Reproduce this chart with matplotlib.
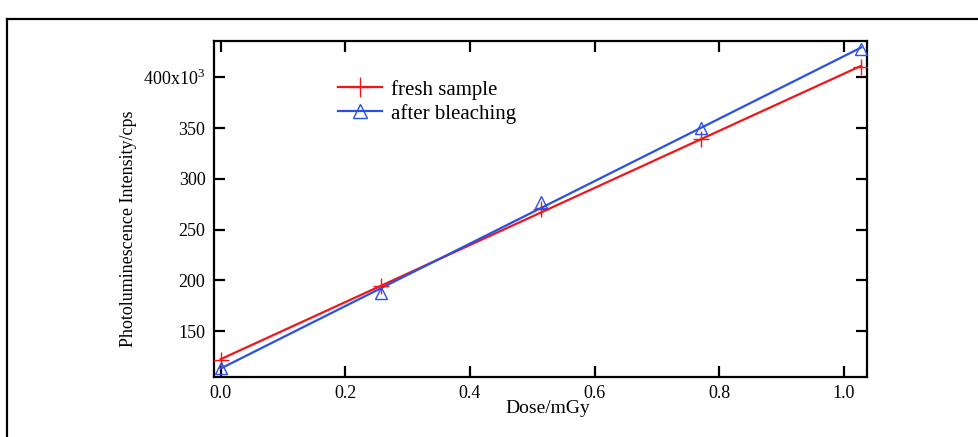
import numpy as np
import matplotlib
matplotlib.use("Agg")
import matplotlib.pyplot as plt
from matplotlib.lines import Line2D

plt.rcParams['font.family'] = ['Liberation Serif', 'DejaVu Serif']
plt.rcParams['mathtext.fontset'] = 'custom'
plt.rcParams['mathtext.rm'] = 'Liberation Serif'

# dose (mGy) and photoluminescence intensity (x10^3 cps)
dose = [0.0, 0.257, 0.514, 0.771, 1.028]
fresh = [121, 194, 270, 339, 410]
bleached = [114, 187, 277, 350, 428]

yticks = [150, 200, 250, 300, 350, 400]
ytick_labels = ['150', '200', '250', '300', '350', '400x10$^{3}$']
xticks = [0.0, 0.2, 0.4, 0.6, 0.8, 1.0]

red = '#f2161c'
blue = '#2a50e4'

fig = plt.figure(figsize=(9.79, 4.37), dpi=100)
ax = fig.add_axes([0.2183, 0.138, 0.6678, 0.7682])

# outer frame (top and left edges only are visible)
fig.add_artist(Line2D([7/979, 1.0], [1 - 19/437, 1 - 19/437], color='black', lw=1.6))
fig.add_artist(Line2D([7/979, 7/979], [0.0, 1 - 19/437], color='black', lw=1.6))

x = np.array(dose)
xfit = np.array([x.min(), x.max()])
for vals, c, m in [(fresh, red, '+'), (bleached, blue, '^')]:
    p = np.polyfit(x, vals, 1)
    ax.plot(xfit, np.polyval(p, xfit), color=c, lw=1.6, zorder=2)
    ax.plot(x, vals, ls='none', marker=m, ms=11 if m == '+' else 9,
            mfc='none', mec=c, mew=1.0, zorder=3)

handles = [Line2D([], [], color=red, lw=1.6, marker='+', ms=14, mew=1.0),
           Line2D([], [], color=blue, lw=1.6, marker='^', ms=10, mfc='none', mew=1.0)]
ax.legend(handles, ['fresh sample', 'after bleaching'], loc='upper left',
          bbox_to_anchor=(0.19, 0.885), frameon=False, fontsize=15,
          borderaxespad=0, borderpad=0, handlelength=2.1, handletextpad=0.45,
          labelspacing=0.2)

ax.set_xlim(-0.011, 1.038)
ax.set_ylim(105, 435.8)
ax.set_xticks(xticks)
ax.set_xticklabels(['%.1f' % t for t in xticks])
ax.set_yticks(yticks)
ax.set_yticklabels(ytick_labels)

ax.tick_params(direction='in', length=8, width=1.6, labelsize=13, pad=6,
               top=True, right=True)
for s in ax.spines.values():
    s.set_linewidth(1.6)

ax.set_xlabel('Dose/mGy', fontsize=14)
ax.xaxis.set_label_coords(0.511, -0.068)
ax.xaxis.label.set_va('top')
ax.set_ylabel('Photoluminescence Intensity/cps', fontsize=13)
ax.yaxis.set_label_coords(-0.117, 0.44)

plt.savefig('out.png', dpi=100)
